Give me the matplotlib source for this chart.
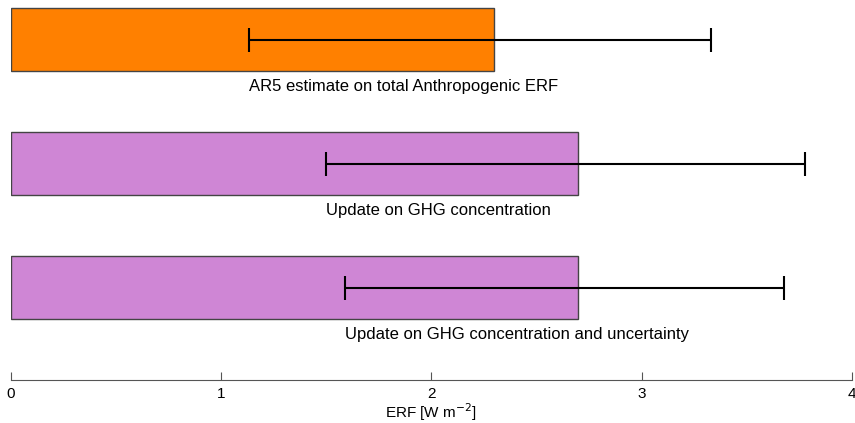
import numpy as np
import matplotlib.pyplot as plt

plt.rcParams['font.family'] = ['Liberation Sans', 'DejaVu Sans']

# ERF estimates (W m-2) with low / high bounds
labels = ['AR5 estimate on total Anthropogenic ERF',
          'Update on GHG concentration',
          'Update on GHG concentration and uncertainty']
erf = [2.3, 2.7, 2.7]
low = [1.13, 1.5, 1.59]
high = [3.33, 3.78, 3.68]
colors = ['#ff8000', '#cf86d5', '#cf86d5']

fig = plt.figure(figsize=(8.55, 4.23), dpi=100)
ax = fig.add_axes([0.0129, 0.1017, 0.9832, 0.8983])

ypos = np.array([2, 1, 0])
erf = np.array(erf)
xerr = np.array([erf - np.array(low), np.array(high) - erf])

ax.barh(ypos, erf, height=0.51, color=colors, edgecolor='#444444', linewidth=1.0)
ax.errorbar(erf, ypos, xerr=xerr, fmt='none', ecolor='black',
            elinewidth=1.5, capsize=8.5, capthick=1.5)

# captions start under the lower end of each error bar
for y, x, lab in zip(ypos, low, labels):
    ax.text(x, y - 0.415, lab, ha='left', va='baseline', fontsize=12)

ax.set_xlim(0, 4)
ax.set_ylim(-0.746, 2.32)
ax.set_xticks([0, 1, 2, 3, 4])
ax.set_yticks([])
for s in ['top', 'right', 'left']:
    ax.spines[s].set_visible(False)
ax.spines['bottom'].set_color('#555555')
ax.tick_params(axis='x', direction='in', length=6, color='#555555',
               labelsize=11, pad=5)
ax.set_xlabel('ERF [W m$^{-2}$]', fontsize=11)
ax.xaxis.label.set_va('baseline')
ax.xaxis.set_label_coords(0.5, -0.1)

fig.savefig('out.png', dpi=100)
